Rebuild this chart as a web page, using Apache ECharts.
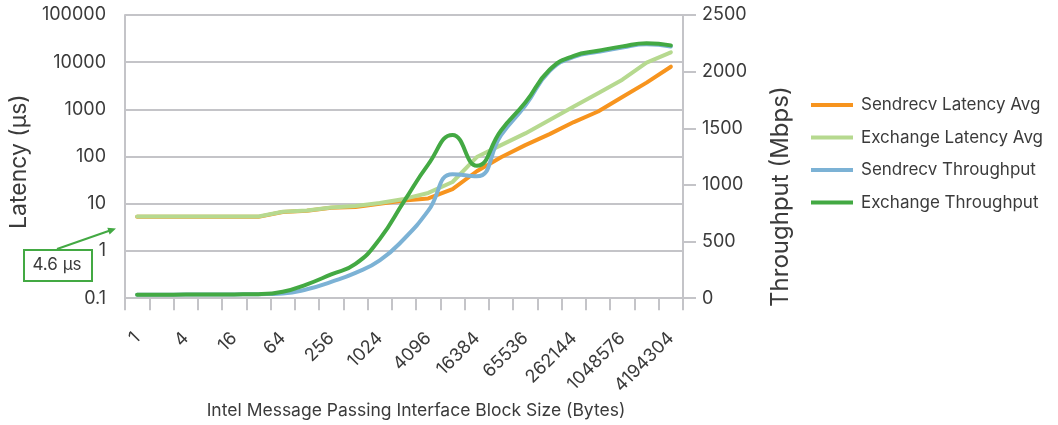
<!DOCTYPE html>
<html>
<head>
<meta charset="utf-8">
<script src="https://cdn.jsdelivr.net/npm/echarts@6/dist/echarts.min.js"></script>
<style>
  html, body { margin: 0; padding: 0; background: #fff; }
  #chart { width: 1058px; height: 425px; }
</style>
</head>
<body>
<div id="chart"></div>
<script>
// Block sizes 2^0 .. 2^22 bytes
const blockSizes = ['1','2','4','8','16','32','64','128','256','512','1024','2048','4096','8192',
  '16384','32768','65536','131072','262144','524288','1048576','2097152','4194304'];

// Average latency (µs), log scale
const sendrecvLatency = [5.3, 5.3, 5.3, 5.3, 5.3, 5.3, 6.7, 7.1, 8.3, 8.6, 10.0, 11.7, 13.0,
  20.5, 49, 97, 175, 300, 540, 904, 1830, 3690, 8030];
const exchangeLatency = [5.4, 5.4, 5.4, 5.4, 5.4, 5.4, 6.8, 7.2, 8.4, 9.0, 10.4, 12.7, 17.0,
  29, 98, 175, 310, 600, 1150, 2200, 4270, 9800, 16200];

// Throughput (Mbps)
const sendrecvThroughput = [30, 31, 32, 33, 34, 36, 42, 79, 145, 224, 334, 523, 773, 1094,
  1076, 1439, 1700, 2005, 2130, 2175, 2213, 2241, 2222];
const exchangeThroughput = [30, 31, 32, 33, 34, 36, 57, 123, 211, 303, 523, 855, 1182, 1441,
  1169, 1481, 1727, 2017, 2140, 2184, 2223, 2251, 2232];

const latencyRange = [0.1, 100000];
const throughputTicks = [0, 500, 1000, 1500, 2000, 2500];

const FONT = 'Inter, "Noto Sans", sans-serif';
const TEXT = '#3b3b3b';
const GRID = '#c4c4c8';
const C_ORANGE = '#f7941e';
const C_LGREEN = '#b6d98f';
const C_BLUE = '#7cb2d5';
const C_DGREEN = '#43a943';

const chart = echarts.init(document.getElementById('chart'));

function lineSeries(name, data, color, yIndex, smooth) {
  return {
    name, type: 'line', data, yAxisIndex: yIndex, smooth,
    showSymbol: false, symbol: 'none',
    lineStyle: { color, width: 4, cap: 'round', join: 'round' },
    itemStyle: { color },
    emphasis: { disabled: true },
    animation: false
  };
}

chart.setOption({
  animation: false,
  textStyle: { fontFamily: FONT, color: TEXT },
  grid: { left: 120, right: 375, top: 15, bottom: 125.5 },
  legend: {
    orient: 'vertical',
    left: 806, top: 90,
    icon: 'rect',
    itemWidth: 42, itemHeight: 4,
    itemGap: 12.5,
    textStyle: { fontFamily: FONT, fontSize: 17, color: TEXT, lineHeight: 20, padding: [0, 0, 0, 3] },
    data: ['Sendrecv Latency Avg', 'Exchange Latency Avg', 'Sendrecv Throughput', 'Exchange Throughput']
  },
  xAxis: {
    type: 'category',
    data: blockSizes,
    boundaryGap: true,
    name: 'Intel Message Passing Interface Block Size (Bytes)',
    nameLocation: 'middle',
    nameGap: 103,
    nameTextStyle: { fontFamily: FONT, fontSize: 17.5, color: TEXT, padding: [0, 0, 0, 24] },
    axisLine: { lineStyle: { color: GRID, width: 2 } },
    axisTick: { show: true, interval: 0, length: 12, lineStyle: { color: GRID, width: 2 } },
    axisLabel: { interval: 1, rotate: 45, margin: 37, fontFamily: FONT, fontSize: 18, color: TEXT }
  },
  yAxis: [
    {
      type: 'log', logBase: 10,
      min: latencyRange[0], max: latencyRange[1],
      name: 'Latency (µs)',
      nameLocation: 'middle', nameRotate: 90, nameGap: 88,
      nameTextStyle: { fontFamily: FONT, fontSize: 23, color: TEXT, padding: [0, 10, 0, 0] },
      axisLine: { show: true, lineStyle: { color: GRID, width: 2 } },
      axisTick: { show: false },
      splitLine: { show: true, lineStyle: { color: GRID, width: 2 } },
      axisLabel: {
        margin: 19, fontFamily: FONT, fontSize: 18, color: TEXT,
        formatter: v => String(+Number(v).toPrecision(6))
      }
    },
    {
      type: 'value',
      min: throughputTicks[0], max: throughputTicks[throughputTicks.length - 1],
      interval: throughputTicks[1] - throughputTicks[0],
      position: 'right',
      name: 'Throughput (Mbps)',
      nameLocation: 'middle', nameRotate: 90, nameGap: 86,
      nameTextStyle: { fontFamily: FONT, fontSize: 24, color: TEXT, padding: [0, 80, 0, 0] },
      axisLine: { show: true, lineStyle: { color: GRID, width: 2 } },
      axisTick: { show: true, inside: false, length: 13, lineStyle: { color: GRID, width: 2 } },
      splitLine: { show: false },
      axisLabel: {
        margin: 19, fontFamily: FONT, fontSize: 18, color: TEXT,
        formatter: v => String(v)
      }
    }
  ],
  series: [
    lineSeries('Sendrecv Latency Avg', sendrecvLatency, C_ORANGE, 0, false),
    lineSeries('Exchange Latency Avg', exchangeLatency, C_LGREEN, 0, false),
    lineSeries('Sendrecv Throughput', sendrecvThroughput, C_BLUE, 1, true),
    lineSeries('Exchange Throughput', exchangeThroughput, C_DGREEN, 1, true)
  ],
  graphic: [
    // callout box for the small-message latency
    {
      type: 'rect', left: 23, top: 249, z: 10,
      shape: { width: 68, height: 31 },
      style: { fill: '#fff', stroke: C_DGREEN, lineWidth: 2 }
    },
    {
      type: 'text', x: 57, y: 265, z: 11,
      style: { text: '4.6 µs', font: '17px ' + FONT, fill: TEXT, align: 'center', verticalAlign: 'middle' }
    },
    // arrow from the callout towards the latency axis
    {
      type: 'polyline', z: 10,
      shape: { points: [[57, 249], [110, 230.5]] },
      style: { stroke: C_DGREEN, lineWidth: 2, fill: null }
    },
    {
      type: 'polygon', z: 10,
      shape: { points: [[116, 228.5], [109.6, 234.4], [107.3, 227.8]] },
      style: { fill: C_DGREEN }
    }
  ]
});
</script>
</body>
</html>
